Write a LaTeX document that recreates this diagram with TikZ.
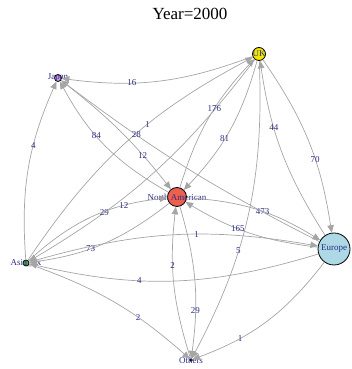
\documentclass[tikz,border=0pt]{standalone}
\usepackage{fontspec}
\setmainfont{Liberation Serif}
\usepackage{xcolor}
\usepackage{tikz}
\usetikzlibrary{arrows.meta}

\definecolor{labblue}{RGB}{45,45,135}
\definecolor{edgegray}{RGB}{165,165,165}
\definecolor{ukyellow}{RGB}{240,230,0}
\definecolor{japanplum}{RGB}{210,150,215}
\definecolor{natomato}{RGB}{238,96,78}
\definecolor{eulightblue}{RGB}{173,216,230}
\definecolor{asiagreen}{RGB}{80,170,80}

\begin{document}
\begin{tikzpicture}[x=1pt, y=1pt]

\tikzstyle{vertex}=[circle,draw=black,line width=0.8pt,inner sep=0pt]
\tikzstyle{vlabel}=[text=labblue,font=\fontsize{9}{10}\selectfont]
\tikzstyle{elabel}=[text=labblue,font=\fontsize{9}{10}\selectfont,inner sep=0.5pt]
\tikzstyle{edge}=[draw=edgegray, line width=0.7pt, -{Triangle[length=7.5pt,width=6.5pt]}]

\useasboundingbox (0,0) rectangle (351,369);

\node (title) at (190,355) {\fontsize{17}{19}\selectfont Year=2000};

\node (uk) [vertex,fill=ukyellow,minimum size=13pt,label={[vlabel]center:UK}] at (259,315) {};
\node (japan) [vertex,fill=japanplum,minimum size=7pt,label={[vlabel]center:Japan}] at (58,291) {};
\node (na) [vertex,fill=natomato,minimum size=19pt,label={[vlabel]center:North American}] at (177,172) {};
\node (europe) [vertex,fill=eulightblue,minimum size=32pt,label={[vlabel]center:Europe}] at (334,120) {};
\node (asia) [vertex,fill=asiagreen,minimum size=6pt,label={[vlabel]center:Asia\_Ex}] at (26,106) {};
\node (others) [vertex,fill=black,minimum size=2.5pt,label={[vlabel]center:Others}] at (191,9) {};

% Connections
\draw[edge] (uk) to[bend left=14] node[elabel,pos=0.65] {16} (japan);
\draw[edge] (asia) to[bend left=14] node[elabel,pos=0.6] {1} (uk);
\draw[edge] (uk) to[bend left=11] node[elabel,pos=0.72] {29} (asia);
\draw[edge] (na) to[bend left=13] node[elabel,pos=0.58] {176} (uk);
\draw[edge] (uk) to[bend left=14] node[elabel,pos=0.57] {81} (na);
\draw[edge] (na) to[bend left=14] node[elabel,pos=0.55] {473} (europe);
\draw[edge] (europe) to[bend left=12] node[elabel,pos=0.59] {165} (na);
\draw[edge] (uk) to[bend left=13] node[elabel,pos=0.61] {70} (europe);
\draw[edge] (europe) to[bend left=12] node[elabel,pos=0.65] {44} (uk);
\draw[edge] (japan) to[bend left=7] node[elabel,pos=0.73] {12} (na);
\draw[edge] (na) to[bend left=16] node[elabel,pos=0.59] {84} (japan);
\draw[edge] (europe) to[bend left=5] node[elabel,pos=0.71] {28} (japan);
\draw[edge] (asia) to[bend left=18] node[elabel,pos=0.73] {12} (na);
\draw[edge] (na) to[bend left=15] node[elabel,pos=0.6] {73} (asia);
\draw[edge] (asia) to[bend left=13] node[elabel,pos=0.59] {1} (europe);
\draw[edge] (europe) to[bend left=15] node[elabel,pos=0.63] {4} (asia);
\draw[edge] (others) to[bend left=12] node[elabel,pos=0.63] {2} (na);
\draw[edge] (na) to[bend left=12] node[elabel,pos=0.7] {29} (others);
\draw[edge] (uk) to[bend left=15] node[elabel,pos=0.63] {5} (others);
\draw[edge] (asia) to[bend left=11] node[elabel,pos=0.66] {2} (others);
\draw[edge] (europe) to[bend left=16] node[elabel,pos=0.7] {1} (others);
\draw[edge] (asia) to[bend left=14] node[elabel,pos=0.64] {4} (japan);

\end{tikzpicture}
\end{document}
